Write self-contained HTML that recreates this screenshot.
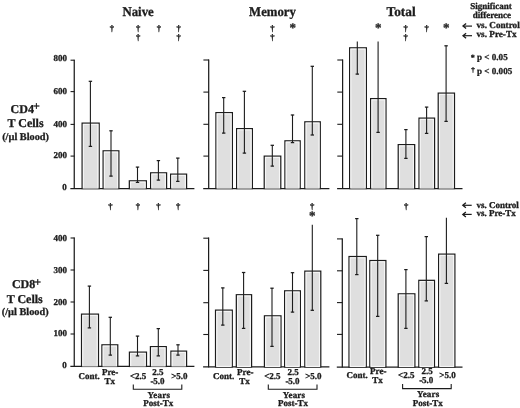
<!DOCTYPE html>
<html><head><meta charset="utf-8"><title>T cell subsets</title>
<style>
html,body{margin:0;padding:0;background:#fff;}
body{width:520px;height:408px;overflow:hidden;}
svg{display:block;}
svg text{text-rendering:geometricPrecision;font-family:"Liberation Serif","DejaVu Serif",serif;font-weight:bold;fill:#1c1c1c;stroke:#1c1c1c;stroke-width:0.3px;}
</style></head><body>
<svg width="520" height="408" viewBox="0 0 520 408">
<rect width="520" height="408" fill="#ffffff"/>
<line x1="74.25" y1="59.7" x2="74.25" y2="189.0" stroke="#1c1c1c" stroke-width="1.25"/>
<line x1="70.35" y1="188.5" x2="194.4" y2="188.5" stroke="#1c1c1c" stroke-width="1.25"/>
<line x1="70.55" y1="60.2" x2="74.55" y2="60.2" stroke="#1c1c1c" stroke-width="1.1"/>
<text x="67.05" y="61.3" font-size="9" text-anchor="end" >800</text>
<line x1="70.55" y1="91.6" x2="74.55" y2="91.6" stroke="#1c1c1c" stroke-width="1.1"/>
<text x="67.05" y="93.6" font-size="9" text-anchor="end" >600</text>
<line x1="70.55" y1="124.4" x2="74.55" y2="124.4" stroke="#1c1c1c" stroke-width="1.1"/>
<text x="67.05" y="126.7" font-size="9" text-anchor="end" >400</text>
<line x1="70.55" y1="156.1" x2="74.55" y2="156.1" stroke="#1c1c1c" stroke-width="1.1"/>
<text x="67.05" y="158.2" font-size="9" text-anchor="end" >200</text>
<text x="66.8" y="190.4" font-size="9" text-anchor="end" >0</text>
<line x1="208.7" y1="59.5" x2="208.7" y2="189.0" stroke="#1c1c1c" stroke-width="1.25"/>
<line x1="203.2" y1="188.5" x2="329.4" y2="188.5" stroke="#1c1c1c" stroke-width="1.25"/>
<line x1="203.39999999999998" y1="60" x2="209.0" y2="60" stroke="#1c1c1c" stroke-width="1.1"/>
<line x1="203.39999999999998" y1="92.1" x2="209.0" y2="92.1" stroke="#1c1c1c" stroke-width="1.1"/>
<line x1="203.39999999999998" y1="124.3" x2="209.0" y2="124.3" stroke="#1c1c1c" stroke-width="1.1"/>
<line x1="203.39999999999998" y1="156.1" x2="209.0" y2="156.1" stroke="#1c1c1c" stroke-width="1.1"/>
<line x1="342.6" y1="59.5" x2="342.6" y2="189.0" stroke="#1c1c1c" stroke-width="1.25"/>
<line x1="337.1" y1="188.5" x2="462.5" y2="188.5" stroke="#1c1c1c" stroke-width="1.25"/>
<line x1="337.3" y1="60" x2="342.90000000000003" y2="60" stroke="#1c1c1c" stroke-width="1.1"/>
<line x1="337.3" y1="92.1" x2="342.90000000000003" y2="92.1" stroke="#1c1c1c" stroke-width="1.1"/>
<line x1="337.3" y1="124.3" x2="342.90000000000003" y2="124.3" stroke="#1c1c1c" stroke-width="1.1"/>
<line x1="337.3" y1="156.1" x2="342.90000000000003" y2="156.1" stroke="#1c1c1c" stroke-width="1.1"/>
<line x1="74.25" y1="237.5" x2="74.25" y2="366.9" stroke="#1c1c1c" stroke-width="1.25"/>
<line x1="70.35" y1="366.4" x2="194.4" y2="366.4" stroke="#1c1c1c" stroke-width="1.25"/>
<line x1="70.55" y1="238" x2="74.55" y2="238" stroke="#1c1c1c" stroke-width="1.1"/>
<text x="67.05" y="240.6" font-size="9" text-anchor="end" >400</text>
<line x1="70.55" y1="270" x2="74.55" y2="270" stroke="#1c1c1c" stroke-width="1.1"/>
<text x="67.05" y="272.6" font-size="9" text-anchor="end" >300</text>
<line x1="70.55" y1="302" x2="74.55" y2="302" stroke="#1c1c1c" stroke-width="1.1"/>
<text x="67.05" y="305.1" font-size="9" text-anchor="end" >200</text>
<line x1="70.55" y1="334" x2="74.55" y2="334" stroke="#1c1c1c" stroke-width="1.1"/>
<text x="67.05" y="336.4" font-size="9" text-anchor="end" >100</text>
<text x="66.8" y="368.4" font-size="9" text-anchor="end" >0</text>
<line x1="208.6" y1="237.5" x2="208.6" y2="367.4" stroke="#1c1c1c" stroke-width="1.25"/>
<line x1="203.1" y1="366.9" x2="329.4" y2="366.9" stroke="#1c1c1c" stroke-width="1.25"/>
<line x1="203.29999999999998" y1="238.2" x2="208.9" y2="238.2" stroke="#1c1c1c" stroke-width="1.1"/>
<line x1="203.29999999999998" y1="270.4" x2="208.9" y2="270.4" stroke="#1c1c1c" stroke-width="1.1"/>
<line x1="203.29999999999998" y1="302.7" x2="208.9" y2="302.7" stroke="#1c1c1c" stroke-width="1.1"/>
<line x1="203.29999999999998" y1="334.5" x2="208.9" y2="334.5" stroke="#1c1c1c" stroke-width="1.1"/>
<line x1="342.3" y1="238.4" x2="342.3" y2="367.5" stroke="#1c1c1c" stroke-width="1.25"/>
<line x1="336.8" y1="367.0" x2="462.5" y2="367.0" stroke="#1c1c1c" stroke-width="1.25"/>
<line x1="337.0" y1="238.9" x2="342.6" y2="238.9" stroke="#1c1c1c" stroke-width="1.1"/>
<line x1="337.0" y1="270.8" x2="342.6" y2="270.8" stroke="#1c1c1c" stroke-width="1.1"/>
<line x1="337.0" y1="302.6" x2="342.6" y2="302.6" stroke="#1c1c1c" stroke-width="1.1"/>
<line x1="337.0" y1="334.4" x2="342.6" y2="334.4" stroke="#1c1c1c" stroke-width="1.1"/>
<rect x="82.17" y="123.17" width="16.95" height="65.33" fill="#dfdfdf" stroke="#1c1c1c" stroke-width="1.35"/>
<rect x="83.35" y="124.35" width="14.60" height="63.65" fill="none" stroke="#f6f6f6" stroke-width="1.2"/>
<rect x="103.17" y="150.88" width="15.65" height="37.63" fill="#dfdfdf" stroke="#1c1c1c" stroke-width="1.35"/>
<rect x="104.35" y="152.05" width="13.30" height="35.95" fill="none" stroke="#f6f6f6" stroke-width="1.2"/>
<rect x="129.38" y="180.88" width="16.95" height="7.63" fill="#dfdfdf" stroke="#1c1c1c" stroke-width="1.35"/>
<rect x="130.55" y="182.05" width="14.60" height="5.95" fill="none" stroke="#f6f6f6" stroke-width="1.2"/>
<rect x="150.68" y="172.88" width="15.85" height="15.63" fill="#dfdfdf" stroke="#1c1c1c" stroke-width="1.35"/>
<rect x="151.85" y="174.05" width="13.50" height="13.95" fill="none" stroke="#f6f6f6" stroke-width="1.2"/>
<rect x="170.68" y="174.18" width="15.85" height="14.32" fill="#dfdfdf" stroke="#1c1c1c" stroke-width="1.35"/>
<rect x="171.85" y="175.35" width="13.50" height="12.65" fill="none" stroke="#f6f6f6" stroke-width="1.2"/>
<line x1="90.4" y1="81.2" x2="90.4" y2="146.5" stroke="#1c1c1c" stroke-width="1.1"/>
<line x1="88.7" y1="81.3" x2="92.10000000000001" y2="81.3" stroke="#1c1c1c" stroke-width="1.25"/>
<line x1="88.7" y1="146.4" x2="92.10000000000001" y2="146.4" stroke="#1c1c1c" stroke-width="1.25"/>
<line x1="111" y1="130.7" x2="111" y2="176.2" stroke="#1c1c1c" stroke-width="1.1"/>
<line x1="109.3" y1="130.79999999999998" x2="112.7" y2="130.79999999999998" stroke="#1c1c1c" stroke-width="1.25"/>
<line x1="109.3" y1="176.1" x2="112.7" y2="176.1" stroke="#1c1c1c" stroke-width="1.25"/>
<line x1="137.5" y1="167" x2="137.5" y2="182.5" stroke="#1c1c1c" stroke-width="1.1"/>
<line x1="135.8" y1="167.1" x2="139.2" y2="167.1" stroke="#1c1c1c" stroke-width="1.25"/>
<line x1="135.8" y1="182.4" x2="139.2" y2="182.4" stroke="#1c1c1c" stroke-width="1.25"/>
<line x1="158.4" y1="160.5" x2="158.4" y2="180.2" stroke="#1c1c1c" stroke-width="1.1"/>
<line x1="156.70000000000002" y1="160.6" x2="160.1" y2="160.6" stroke="#1c1c1c" stroke-width="1.25"/>
<line x1="156.70000000000002" y1="180.1" x2="160.1" y2="180.1" stroke="#1c1c1c" stroke-width="1.25"/>
<line x1="177.8" y1="158" x2="177.8" y2="181.5" stroke="#1c1c1c" stroke-width="1.1"/>
<line x1="176.10000000000002" y1="158.1" x2="179.5" y2="158.1" stroke="#1c1c1c" stroke-width="1.25"/>
<line x1="176.10000000000002" y1="181.4" x2="179.5" y2="181.4" stroke="#1c1c1c" stroke-width="1.25"/>
<rect x="215.98" y="112.67" width="16.35" height="75.83" fill="#dfdfdf" stroke="#1c1c1c" stroke-width="1.35"/>
<rect x="217.15" y="113.85" width="14.00" height="74.15" fill="none" stroke="#f6f6f6" stroke-width="1.2"/>
<rect x="236.68" y="128.68" width="15.65" height="59.83" fill="#dfdfdf" stroke="#1c1c1c" stroke-width="1.35"/>
<rect x="237.85" y="129.85" width="13.30" height="58.15" fill="none" stroke="#f6f6f6" stroke-width="1.2"/>
<rect x="264.28" y="156.18" width="16.45" height="32.33" fill="#dfdfdf" stroke="#1c1c1c" stroke-width="1.35"/>
<rect x="265.45" y="157.35" width="14.10" height="30.65" fill="none" stroke="#f6f6f6" stroke-width="1.2"/>
<rect x="284.98" y="140.88" width="15.15" height="47.63" fill="#dfdfdf" stroke="#1c1c1c" stroke-width="1.35"/>
<rect x="286.15" y="142.05" width="12.80" height="45.95" fill="none" stroke="#f6f6f6" stroke-width="1.2"/>
<rect x="304.88" y="121.88" width="15.35" height="66.62" fill="#dfdfdf" stroke="#1c1c1c" stroke-width="1.35"/>
<rect x="306.05" y="123.05" width="13.00" height="64.95" fill="none" stroke="#f6f6f6" stroke-width="1.2"/>
<line x1="223.7" y1="97.5" x2="223.7" y2="133.2" stroke="#1c1c1c" stroke-width="1.1"/>
<line x1="222.0" y1="97.6" x2="225.39999999999998" y2="97.6" stroke="#1c1c1c" stroke-width="1.25"/>
<line x1="222.0" y1="133.1" x2="225.39999999999998" y2="133.1" stroke="#1c1c1c" stroke-width="1.25"/>
<line x1="244.4" y1="91.2" x2="244.4" y2="153.2" stroke="#1c1c1c" stroke-width="1.1"/>
<line x1="242.70000000000002" y1="91.3" x2="246.1" y2="91.3" stroke="#1c1c1c" stroke-width="1.25"/>
<line x1="242.70000000000002" y1="153.1" x2="246.1" y2="153.1" stroke="#1c1c1c" stroke-width="1.25"/>
<line x1="272.3" y1="145.2" x2="272.3" y2="166.2" stroke="#1c1c1c" stroke-width="1.1"/>
<line x1="270.6" y1="145.29999999999998" x2="274.0" y2="145.29999999999998" stroke="#1c1c1c" stroke-width="1.25"/>
<line x1="270.6" y1="166.1" x2="274.0" y2="166.1" stroke="#1c1c1c" stroke-width="1.25"/>
<line x1="292.5" y1="114.9" x2="292.5" y2="142.7" stroke="#1c1c1c" stroke-width="1.1"/>
<line x1="290.8" y1="115.0" x2="294.2" y2="115.0" stroke="#1c1c1c" stroke-width="1.25"/>
<line x1="290.8" y1="142.6" x2="294.2" y2="142.6" stroke="#1c1c1c" stroke-width="1.25"/>
<line x1="312.3" y1="66.2" x2="312.3" y2="135.1" stroke="#1c1c1c" stroke-width="1.1"/>
<line x1="310.6" y1="66.3" x2="314.0" y2="66.3" stroke="#1c1c1c" stroke-width="1.25"/>
<line x1="310.6" y1="135.0" x2="314.0" y2="135.0" stroke="#1c1c1c" stroke-width="1.25"/>
<rect x="349.68" y="47.88" width="16.65" height="140.62" fill="#dfdfdf" stroke="#1c1c1c" stroke-width="1.35"/>
<rect x="350.85" y="49.05" width="14.30" height="138.95" fill="none" stroke="#f6f6f6" stroke-width="1.2"/>
<rect x="370.68" y="98.67" width="15.25" height="89.83" fill="#dfdfdf" stroke="#1c1c1c" stroke-width="1.35"/>
<rect x="371.85" y="99.85" width="12.90" height="88.15" fill="none" stroke="#f6f6f6" stroke-width="1.2"/>
<rect x="398.28" y="144.68" width="16.35" height="43.83" fill="#dfdfdf" stroke="#1c1c1c" stroke-width="1.35"/>
<rect x="399.45" y="145.85" width="14.00" height="42.15" fill="none" stroke="#f6f6f6" stroke-width="1.2"/>
<rect x="419.07" y="118.17" width="15.45" height="70.33" fill="#dfdfdf" stroke="#1c1c1c" stroke-width="1.35"/>
<rect x="420.25" y="119.35" width="13.10" height="68.65" fill="none" stroke="#f6f6f6" stroke-width="1.2"/>
<rect x="438.28" y="93.17" width="16.15" height="95.33" fill="#dfdfdf" stroke="#1c1c1c" stroke-width="1.35"/>
<rect x="439.45" y="94.35" width="13.80" height="93.65" fill="none" stroke="#f6f6f6" stroke-width="1.2"/>
<line x1="357.3" y1="41.6" x2="357.3" y2="74.2" stroke="#1c1c1c" stroke-width="1.1"/>
<line x1="355.6" y1="74.10000000000001" x2="359.0" y2="74.10000000000001" stroke="#1c1c1c" stroke-width="1.25"/>
<line x1="378.1" y1="41.6" x2="378.1" y2="132.5" stroke="#1c1c1c" stroke-width="1.1"/>
<line x1="376.40000000000003" y1="132.4" x2="379.8" y2="132.4" stroke="#1c1c1c" stroke-width="1.25"/>
<line x1="405.9" y1="129.5" x2="405.9" y2="158.5" stroke="#1c1c1c" stroke-width="1.1"/>
<line x1="404.2" y1="129.6" x2="407.59999999999997" y2="129.6" stroke="#1c1c1c" stroke-width="1.25"/>
<line x1="404.2" y1="158.4" x2="407.59999999999997" y2="158.4" stroke="#1c1c1c" stroke-width="1.25"/>
<line x1="426.6" y1="107" x2="426.6" y2="133.5" stroke="#1c1c1c" stroke-width="1.1"/>
<line x1="424.90000000000003" y1="107.1" x2="428.3" y2="107.1" stroke="#1c1c1c" stroke-width="1.25"/>
<line x1="424.90000000000003" y1="133.4" x2="428.3" y2="133.4" stroke="#1c1c1c" stroke-width="1.25"/>
<line x1="446.1" y1="45.7" x2="446.1" y2="121.5" stroke="#1c1c1c" stroke-width="1.1"/>
<line x1="444.40000000000003" y1="45.800000000000004" x2="447.8" y2="45.800000000000004" stroke="#1c1c1c" stroke-width="1.25"/>
<line x1="444.40000000000003" y1="121.4" x2="447.8" y2="121.4" stroke="#1c1c1c" stroke-width="1.25"/>
<rect x="81.58" y="314.18" width="16.85" height="52.22" fill="#dfdfdf" stroke="#1c1c1c" stroke-width="1.35"/>
<rect x="82.75" y="315.35" width="14.50" height="50.55" fill="none" stroke="#f6f6f6" stroke-width="1.2"/>
<rect x="101.97" y="344.88" width="15.75" height="21.52" fill="#dfdfdf" stroke="#1c1c1c" stroke-width="1.35"/>
<rect x="103.15" y="346.05" width="13.40" height="19.85" fill="none" stroke="#f6f6f6" stroke-width="1.2"/>
<rect x="129.48" y="352.18" width="16.95" height="14.22" fill="#dfdfdf" stroke="#1c1c1c" stroke-width="1.35"/>
<rect x="130.65" y="353.35" width="14.60" height="12.55" fill="none" stroke="#f6f6f6" stroke-width="1.2"/>
<rect x="150.48" y="346.68" width="15.75" height="19.72" fill="#dfdfdf" stroke="#1c1c1c" stroke-width="1.35"/>
<rect x="151.65" y="347.85" width="13.40" height="18.05" fill="none" stroke="#f6f6f6" stroke-width="1.2"/>
<rect x="170.98" y="351.18" width="15.55" height="15.22" fill="#dfdfdf" stroke="#1c1c1c" stroke-width="1.35"/>
<rect x="172.15" y="352.35" width="13.20" height="13.55" fill="none" stroke="#f6f6f6" stroke-width="1.2"/>
<line x1="89.4" y1="286" x2="89.4" y2="328" stroke="#1c1c1c" stroke-width="1.1"/>
<line x1="87.7" y1="286.1" x2="91.10000000000001" y2="286.1" stroke="#1c1c1c" stroke-width="1.25"/>
<line x1="87.7" y1="327.9" x2="91.10000000000001" y2="327.9" stroke="#1c1c1c" stroke-width="1.25"/>
<line x1="110.3" y1="317.2" x2="110.3" y2="355.2" stroke="#1c1c1c" stroke-width="1.1"/>
<line x1="108.6" y1="317.3" x2="112.0" y2="317.3" stroke="#1c1c1c" stroke-width="1.25"/>
<line x1="108.6" y1="355.09999999999997" x2="112.0" y2="355.09999999999997" stroke="#1c1c1c" stroke-width="1.25"/>
<line x1="137.5" y1="336" x2="137.5" y2="356" stroke="#1c1c1c" stroke-width="1.1"/>
<line x1="135.8" y1="336.1" x2="139.2" y2="336.1" stroke="#1c1c1c" stroke-width="1.25"/>
<line x1="135.8" y1="355.9" x2="139.2" y2="355.9" stroke="#1c1c1c" stroke-width="1.25"/>
<line x1="158.3" y1="328.5" x2="158.3" y2="356" stroke="#1c1c1c" stroke-width="1.1"/>
<line x1="156.60000000000002" y1="328.6" x2="160.0" y2="328.6" stroke="#1c1c1c" stroke-width="1.25"/>
<line x1="156.60000000000002" y1="355.9" x2="160.0" y2="355.9" stroke="#1c1c1c" stroke-width="1.25"/>
<line x1="178" y1="344.7" x2="178" y2="355.2" stroke="#1c1c1c" stroke-width="1.1"/>
<line x1="176.3" y1="344.8" x2="179.7" y2="344.8" stroke="#1c1c1c" stroke-width="1.25"/>
<line x1="176.3" y1="355.09999999999997" x2="179.7" y2="355.09999999999997" stroke="#1c1c1c" stroke-width="1.25"/>
<rect x="215.58" y="310.18" width="16.65" height="56.72" fill="#dfdfdf" stroke="#1c1c1c" stroke-width="1.35"/>
<rect x="216.75" y="311.35" width="14.30" height="55.05" fill="none" stroke="#f6f6f6" stroke-width="1.2"/>
<rect x="236.38" y="294.78" width="15.15" height="72.12" fill="#dfdfdf" stroke="#1c1c1c" stroke-width="1.35"/>
<rect x="237.55" y="295.95" width="12.80" height="70.45" fill="none" stroke="#f6f6f6" stroke-width="1.2"/>
<rect x="264.48" y="315.88" width="16.45" height="51.02" fill="#dfdfdf" stroke="#1c1c1c" stroke-width="1.35"/>
<rect x="265.65" y="317.05" width="14.10" height="49.35" fill="none" stroke="#f6f6f6" stroke-width="1.2"/>
<rect x="284.68" y="290.88" width="15.65" height="76.02" fill="#dfdfdf" stroke="#1c1c1c" stroke-width="1.35"/>
<rect x="285.85" y="292.05" width="13.30" height="74.35" fill="none" stroke="#f6f6f6" stroke-width="1.2"/>
<rect x="304.88" y="271.18" width="15.85" height="95.72" fill="#dfdfdf" stroke="#1c1c1c" stroke-width="1.35"/>
<rect x="306.05" y="272.35" width="13.50" height="94.05" fill="none" stroke="#f6f6f6" stroke-width="1.2"/>
<line x1="222.8" y1="287.8" x2="222.8" y2="325.2" stroke="#1c1c1c" stroke-width="1.1"/>
<line x1="221.10000000000002" y1="287.90000000000003" x2="224.5" y2="287.90000000000003" stroke="#1c1c1c" stroke-width="1.25"/>
<line x1="221.10000000000002" y1="325.09999999999997" x2="224.5" y2="325.09999999999997" stroke="#1c1c1c" stroke-width="1.25"/>
<line x1="243.6" y1="272.4" x2="243.6" y2="328.5" stroke="#1c1c1c" stroke-width="1.1"/>
<line x1="241.9" y1="272.5" x2="245.29999999999998" y2="272.5" stroke="#1c1c1c" stroke-width="1.25"/>
<line x1="241.9" y1="328.4" x2="245.29999999999998" y2="328.4" stroke="#1c1c1c" stroke-width="1.25"/>
<line x1="272.0" y1="288.1" x2="272.0" y2="346.5" stroke="#1c1c1c" stroke-width="1.1"/>
<line x1="270.3" y1="288.20000000000005" x2="273.7" y2="288.20000000000005" stroke="#1c1c1c" stroke-width="1.25"/>
<line x1="270.3" y1="346.4" x2="273.7" y2="346.4" stroke="#1c1c1c" stroke-width="1.25"/>
<line x1="292.5" y1="272.6" x2="292.5" y2="312.2" stroke="#1c1c1c" stroke-width="1.1"/>
<line x1="290.8" y1="272.70000000000005" x2="294.2" y2="272.70000000000005" stroke="#1c1c1c" stroke-width="1.25"/>
<line x1="290.8" y1="312.09999999999997" x2="294.2" y2="312.09999999999997" stroke="#1c1c1c" stroke-width="1.25"/>
<line x1="312.3" y1="224.8" x2="312.3" y2="310.4" stroke="#1c1c1c" stroke-width="1.1"/>
<line x1="310.6" y1="310.29999999999995" x2="314.0" y2="310.29999999999995" stroke="#1c1c1c" stroke-width="1.25"/>
<rect x="349.07" y="256.57" width="17.15" height="110.42" fill="#dfdfdf" stroke="#1c1c1c" stroke-width="1.35"/>
<rect x="350.25" y="257.75" width="14.80" height="108.75" fill="none" stroke="#f6f6f6" stroke-width="1.2"/>
<rect x="369.88" y="260.57" width="15.95" height="106.43" fill="#dfdfdf" stroke="#1c1c1c" stroke-width="1.35"/>
<rect x="371.05" y="261.75" width="13.60" height="104.75" fill="none" stroke="#f6f6f6" stroke-width="1.2"/>
<rect x="398.28" y="293.88" width="16.55" height="73.13" fill="#dfdfdf" stroke="#1c1c1c" stroke-width="1.35"/>
<rect x="399.45" y="295.05" width="14.20" height="71.45" fill="none" stroke="#f6f6f6" stroke-width="1.2"/>
<rect x="418.88" y="280.38" width="15.55" height="86.63" fill="#dfdfdf" stroke="#1c1c1c" stroke-width="1.35"/>
<rect x="420.05" y="281.55" width="13.20" height="84.95" fill="none" stroke="#f6f6f6" stroke-width="1.2"/>
<rect x="438.68" y="254.18" width="16.15" height="112.83" fill="#dfdfdf" stroke="#1c1c1c" stroke-width="1.35"/>
<rect x="439.85" y="255.35" width="13.80" height="111.15" fill="none" stroke="#f6f6f6" stroke-width="1.2"/>
<line x1="356.8" y1="218.5" x2="356.8" y2="274.7" stroke="#1c1c1c" stroke-width="1.1"/>
<line x1="355.1" y1="218.6" x2="358.5" y2="218.6" stroke="#1c1c1c" stroke-width="1.25"/>
<line x1="355.1" y1="274.59999999999997" x2="358.5" y2="274.59999999999997" stroke="#1c1c1c" stroke-width="1.25"/>
<line x1="377.7" y1="235.2" x2="377.7" y2="316.5" stroke="#1c1c1c" stroke-width="1.1"/>
<line x1="376.0" y1="235.29999999999998" x2="379.4" y2="235.29999999999998" stroke="#1c1c1c" stroke-width="1.25"/>
<line x1="376.0" y1="316.4" x2="379.4" y2="316.4" stroke="#1c1c1c" stroke-width="1.25"/>
<line x1="405.9" y1="269.5" x2="405.9" y2="328.5" stroke="#1c1c1c" stroke-width="1.1"/>
<line x1="404.2" y1="269.6" x2="407.59999999999997" y2="269.6" stroke="#1c1c1c" stroke-width="1.25"/>
<line x1="404.2" y1="328.4" x2="407.59999999999997" y2="328.4" stroke="#1c1c1c" stroke-width="1.25"/>
<line x1="426.3" y1="236.5" x2="426.3" y2="301" stroke="#1c1c1c" stroke-width="1.1"/>
<line x1="424.6" y1="236.6" x2="428.0" y2="236.6" stroke="#1c1c1c" stroke-width="1.25"/>
<line x1="424.6" y1="300.9" x2="428.0" y2="300.9" stroke="#1c1c1c" stroke-width="1.25"/>
<line x1="446.4" y1="217.7" x2="446.4" y2="283.5" stroke="#1c1c1c" stroke-width="1.1"/>
<line x1="444.7" y1="283.4" x2="448.09999999999997" y2="283.4" stroke="#1c1c1c" stroke-width="1.25"/>
<text x="138.1" y="15.7" font-size="13.4" text-anchor="middle" textLength="31.3" lengthAdjust="spacingAndGlyphs" stroke-width="0.4">Naive</text>
<text x="272.5" y="15.7" font-size="13.4" text-anchor="middle" textLength="46.8" lengthAdjust="spacingAndGlyphs" stroke-width="0.4">Memory</text>
<text x="401.1" y="15.8" font-size="13.4" text-anchor="middle" textLength="29.2" lengthAdjust="spacingAndGlyphs" stroke-width="0.4">Total</text>
<text x="111.8" y="30.8" font-size="8.6" text-anchor="middle" font-weight="normal" stroke-width="0.5">†</text>
<text x="138.1" y="30.8" font-size="8.6" text-anchor="middle" font-weight="normal" stroke-width="0.5">†</text>
<text x="158.8" y="30.8" font-size="8.6" text-anchor="middle" font-weight="normal" stroke-width="0.5">†</text>
<text x="178.6" y="30.8" font-size="8.6" text-anchor="middle" font-weight="normal" stroke-width="0.5">†</text>
<text x="138.1" y="39.8" font-size="8.6" text-anchor="middle" font-weight="normal" stroke-width="0.5">†</text>
<text x="178.6" y="39.8" font-size="8.6" text-anchor="middle" font-weight="normal" stroke-width="0.5">†</text>
<text x="272.5" y="30.8" font-size="8.6" text-anchor="middle" font-weight="normal" stroke-width="0.5">†</text>
<text x="272.5" y="39.8" font-size="8.6" text-anchor="middle" font-weight="normal" stroke-width="0.5">†</text>
<text x="292.7" y="31.5" font-size="13" text-anchor="middle" >*</text>
<text x="378.2" y="31.5" font-size="13" text-anchor="middle" >*</text>
<text x="405.7" y="30.8" font-size="8.6" text-anchor="middle" font-weight="normal" stroke-width="0.5">†</text>
<text x="405.7" y="39.8" font-size="8.6" text-anchor="middle" font-weight="normal" stroke-width="0.5">†</text>
<text x="426.7" y="30.8" font-size="8.6" text-anchor="middle" font-weight="normal" stroke-width="0.5">†</text>
<text x="446.2" y="31.5" font-size="13" text-anchor="middle" >*</text>
<text x="110.5" y="209.2" font-size="8.6" text-anchor="middle" font-weight="normal" stroke-width="0.5">†</text>
<text x="137.8" y="209.2" font-size="8.6" text-anchor="middle" font-weight="normal" stroke-width="0.5">†</text>
<text x="158.5" y="209.2" font-size="8.6" text-anchor="middle" font-weight="normal" stroke-width="0.5">†</text>
<text x="178.2" y="209.2" font-size="8.6" text-anchor="middle" font-weight="normal" stroke-width="0.5">†</text>
<text x="312.2" y="209.2" font-size="8.6" text-anchor="middle" font-weight="normal" stroke-width="0.5">†</text>
<text x="312.2" y="220.0" font-size="13" text-anchor="middle" >*</text>
<text x="406.2" y="209.2" font-size="8.6" text-anchor="middle" font-weight="normal" stroke-width="0.5">†</text>
<text x="491.1" y="8.9" font-size="9" text-anchor="middle" >Significant</text>
<text x="491.9" y="18.3" font-size="9" text-anchor="middle" >difference</text>
<line x1="463.5" y1="26.1" x2="472" y2="26.1" stroke="#1c1c1c" stroke-width="1.2"/>
<path d="M466.09999999999997,23.6 L463.0,26.1 L466.09999999999997,28.6" fill="none" stroke="#1c1c1c" stroke-width="1.3"/>
<text x="476.5" y="28.4" font-size="9.2" text-anchor="start" >vs. Control</text>
<line x1="463.5" y1="35.7" x2="472" y2="35.7" stroke="#1c1c1c" stroke-width="1.2"/>
<path d="M466.09999999999997,33.2 L463.0,35.7 L466.09999999999997,38.2" fill="none" stroke="#1c1c1c" stroke-width="1.3"/>
<text x="476.5" y="37.4" font-size="9.2" text-anchor="start" >vs. Pre-Tx</text>
<text x="472.8" y="60.3" font-size="8" text-anchor="middle" >*</text>
<text x="477" y="59.8" font-size="9.1" text-anchor="start" >p &lt; 0.05</text>
<text x="473" y="71.6" font-size="7" text-anchor="middle" font-weight="normal" stroke-width="0.5">†</text>
<text x="477" y="73.6" font-size="9.1" text-anchor="start" >p &lt; 0.005</text>
<line x1="463.3" y1="205.3" x2="471.7" y2="205.3" stroke="#1c1c1c" stroke-width="1.2"/>
<path d="M465.9,202.8 L462.8,205.3 L465.9,207.8" fill="none" stroke="#1c1c1c" stroke-width="1.3"/>
<text x="476.4" y="207.6" font-size="9" text-anchor="start" >vs. Control</text>
<line x1="463.3" y1="214.4" x2="471.7" y2="214.4" stroke="#1c1c1c" stroke-width="1.2"/>
<path d="M465.9,211.9 L462.8,214.4 L465.9,216.9" fill="none" stroke="#1c1c1c" stroke-width="1.3"/>
<text x="476.4" y="216.4" font-size="9" text-anchor="start" >vs. Pre-Tx</text>
<text x="22.25" y="112.7" font-size="12" text-anchor="middle" >CD4</text>
<text x="36.4" y="110.2" font-size="12" text-anchor="middle" stroke-width="0.7">+</text>
<text x="25.5" y="127.2" font-size="12" text-anchor="middle" >T Cells</text>
<text x="25.6" y="139.7" font-size="10.3" text-anchor="middle" >(/µl Blood)</text>
<text x="23.6" y="287.9" font-size="12" text-anchor="middle" >CD8</text>
<text x="37.7" y="286.1" font-size="12" text-anchor="middle" stroke-width="0.7">+</text>
<text x="24.7" y="303.2" font-size="12" text-anchor="middle" >T Cells</text>
<text x="25.2" y="315.1" font-size="10.3" text-anchor="middle" >(/µl Blood)</text>
<text x="89.1" y="378.6" font-size="9" text-anchor="middle" >Cont.</text>
<text x="110.1" y="374.7" font-size="9" text-anchor="middle" >Pre-</text>
<text x="109.8" y="383.6" font-size="9" text-anchor="middle" >Tx</text>
<text x="138.1" y="378.5" font-size="9" text-anchor="middle" >&lt;2.5</text>
<text x="157.9" y="374.7" font-size="9" text-anchor="middle" >2.5</text>
<text x="157.5" y="383.5" font-size="9" text-anchor="middle" >-5.0</text>
<text x="179.4" y="378.5" font-size="9" text-anchor="middle" >&gt;5.0</text>
<path d="M133.3,384.5 V389.2 H181.8 V384.5" fill="none" stroke="#1c1c1c" stroke-width="1.1"/>
<text x="158.7" y="397.6" font-size="9" text-anchor="middle" textLength="22.4" lengthAdjust="spacing">Years</text>
<text x="158.25" y="406.3" font-size="9" text-anchor="middle" >Post-Tx</text>
<text x="223.75" y="378.6" font-size="9" text-anchor="middle" >Cont.</text>
<text x="245.25" y="374.7" font-size="9" text-anchor="middle" >Pre-</text>
<text x="244.6" y="383.6" font-size="9" text-anchor="middle" >Tx</text>
<text x="272.4" y="378.5" font-size="9" text-anchor="middle" >&lt;2.5</text>
<text x="293.1" y="374.7" font-size="9" text-anchor="middle" >2.5</text>
<text x="292.5" y="383.5" font-size="9" text-anchor="middle" >-5.0</text>
<text x="313.4" y="378.5" font-size="9" text-anchor="middle" >&gt;5.0</text>
<path d="M268.3,384.5 V389.2 H317 V384.5" fill="none" stroke="#1c1c1c" stroke-width="1.1"/>
<text x="293.9" y="397.6" font-size="9" text-anchor="middle" textLength="22.4" lengthAdjust="spacing">Years</text>
<text x="293.1" y="406.3" font-size="9" text-anchor="middle" >Post-Tx</text>
<text x="357.1" y="378.0" font-size="9" text-anchor="middle" >Cont.</text>
<text x="378.25" y="374.09999999999997" font-size="9" text-anchor="middle" >Pre-</text>
<text x="377.6" y="383.0" font-size="9" text-anchor="middle" >Tx</text>
<text x="406.25" y="377.9" font-size="9" text-anchor="middle" >&lt;2.5</text>
<text x="427.1" y="374.09999999999997" font-size="9" text-anchor="middle" >2.5</text>
<text x="426.25" y="382.9" font-size="9" text-anchor="middle" >-5.0</text>
<text x="447.5" y="377.9" font-size="9" text-anchor="middle" >&gt;5.0</text>
<path d="M402.6,383.9 V388.59999999999997 H451.2 V383.9" fill="none" stroke="#1c1c1c" stroke-width="1.1"/>
<text x="428.1" y="397.0" font-size="9" text-anchor="middle" textLength="22.4" lengthAdjust="spacing">Years</text>
<text x="427.75" y="406.3" font-size="9" text-anchor="middle" >Post-Tx</text>
</svg>
</body></html>
